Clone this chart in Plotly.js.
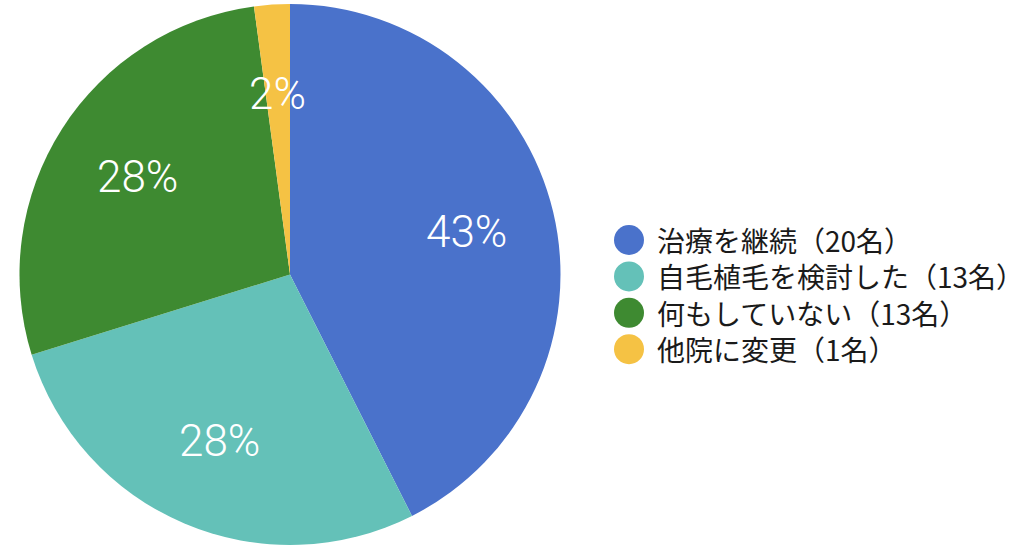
<!DOCTYPE html>
<html>
<head>
<meta charset="utf-8">
<script src="https://cdn.plot.ly/plotly-3.0.1.min.js"></script>
<style>html,body{margin:0;padding:0;background:#fff;}#chart{width:1024px;height:551px;}</style>
</head>
<body>
<div id="chart"></div>
<script>
const categories = ['治療を継続', '自毛植毛を検討した', '何もしていない', '他院に変更'];
const counts = [20, 13, 13, 1];
const legendLabels = ['治療を継続（20名）', '自毛植毛を検討した（13名）', '何もしていない（13名）', '他院に変更（1名）'];
const colors = ['#4a72cb', '#64c1b8', '#3e8a31', '#f5c244'];

const W = 1024, H = 551;
const cx = 290, cy = 274.5, R = 270.5;
const total = counts.reduce((a, b) => a + b, 0);

const pie = {
  type: 'pie',
  labels: categories,
  values: counts,
  sort: false,
  direction: 'clockwise',
  rotation: 0,
  marker: { colors: colors, line: { width: 0 } },
  textinfo: 'none',
  hoverinfo: 'label+percent',
  showlegend: false,
  domain: { x: [(cx - R) / W, (cx + R) / W], y: [1 - (cy + R) / H, 1 - (cy - R) / H] }
};

const legendFont = 28;
const rowGap = legendFont * 1.3;
const firstRowY = 240;

const annotations = [];
const shapes = [];
let cum = 0;
counts.forEach((v, i) => {
  const mid = (cum + v / 2) / total * 2 * Math.PI;
  cum += v;
  const lr = 0.67 * R;
  const px = cx + lr * Math.sin(mid);
  const py = cy - lr * Math.cos(mid);
  annotations.push({
    xref: 'paper', yref: 'paper', x: px / W, y: 1 - py / H,
    xanchor: 'center', yanchor: 'middle', showarrow: false,
    text: Math.round(v / total * 100) + '%',
    font: { family: 'Roboto, Liberation Sans, sans-serif', size: 44, color: '#ffffff', weight: 300 }
  });
  const rowY = firstRowY + i * rowGap;
  shapes.push({
    type: 'circle', xref: 'paper', yref: 'paper',
    x0: 614 / W, x1: 644 / W, y0: 1 - (rowY + 15) / H, y1: 1 - (rowY - 15) / H,
    fillcolor: colors[i], line: { width: 0 }
  });
});

const midY = firstRowY + (counts.length - 1) * rowGap / 2;
annotations.push({
  xref: 'paper', yref: 'paper', x: 655 / W, y: 1 - midY / H,
  xanchor: 'left', yanchor: 'middle', align: 'left', showarrow: false,
  text: legendLabels.join('<br>'),
  font: { family: 'Noto Sans CJK JP, sans-serif', size: legendFont, color: '#1a1a1a' }
});

const layout = {
  width: W, height: H,
  margin: { l: 0, r: 0, t: 0, b: 0 },
  paper_bgcolor: '#ffffff',
  showlegend: false,
  annotations: annotations,
  shapes: shapes
};

Plotly.newPlot('chart', [pie], layout, { displayModeBar: false, staticPlot: true });
</script>
</body>
</html>
